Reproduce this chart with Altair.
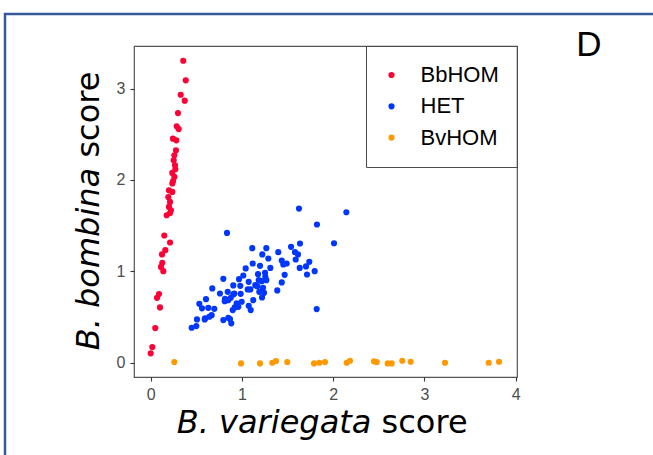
import altair as alt
import pandas as pd

groups = ["BbHOM", "HET", "BvHOM"]
colors = ["#ff0036", "#0037ff", "#ff9900"]

red_x = [0.357, 0.384, 0.329, 0.373, 0.299, 0.285, 0.307, 0.244, 0.281, 0.277, 0.259, 0.252, 0.270,
         0.237, 0.259, 0.237, 0.200, 0.237, 0.193, 0.212, 0.200, 0.222, 0.212, 0.175, 0.149, 0.212,
         0.160, 0.124, 0.127, 0.113, 0.138, 0.091, 0.069, 0.102, 0.050, 0.018, 0.000, 0.266, 0.244]
red_y = [3.305, 3.090, 2.933, 2.868, 2.732, 2.587, 2.557, 2.452, 2.434, 2.325, 2.270, 2.215, 2.117,
         2.077, 2.033, 1.961, 1.887, 1.869, 1.814, 1.760, 1.705, 1.669, 1.639, 1.614, 1.392, 1.316,
         1.232, 1.185, 1.093, 1.049, 1.002, 0.751, 0.710, 0.605, 0.379, 0.172, 0.103, 2.160, 1.985]

blue_x = [1.625, 2.144, 1.822, 0.836, 2.009, 1.113, 1.267, 1.538, 1.636, 1.398, 1.581, 1.614, 1.223,
          1.289, 1.589, 1.738, 1.436, 1.453, 1.490, 1.118, 1.198, 1.311, 1.633, 1.702, 1.797, 1.713,
          1.041, 1.176, 1.253, 1.468, 1.015, 0.968, 0.796, 1.074, 1.184, 1.267, 1.436, 1.387, 0.905,
          1.063, 1.168, 1.231, 0.675, 0.759, 0.844, 0.916, 0.986, 1.220, 0.814, 0.877, 1.124, 0.606,
          0.533, 0.562, 0.631, 0.697, 0.960, 1.074, 1.096, 0.899, 0.668, 0.595, 1.819, 0.507, 0.796,
          0.883, 0.500, 0.449, 0.850, 0.921, 0.850, 0.982, 1.146, 1.216, 0.905, 1.092, 1.190, 0.811,
          0.942, 0.997, 0.642, 0.592, 0.869, 1.256, 1.242]
blue_y = [1.687, 1.647, 1.513, 1.421, 1.308, 1.254, 1.254, 1.268, 1.305, 1.210, 1.210, 1.185, 1.185,
          1.141, 1.130, 1.104, 1.119, 1.075, 1.086, 1.086, 1.060, 1.038, 1.038, 1.054, 1.002, 0.966,
          1.032, 0.969, 0.984, 0.962, 0.955, 0.915, 0.918, 0.885, 0.904, 0.904, 0.879, 0.791, 0.846,
          0.802, 0.838, 0.820, 0.813, 0.758, 0.776, 0.758, 0.754, 0.715, 0.699, 0.710, 0.685, 0.696,
          0.645, 0.595, 0.601, 0.590, 0.612, 0.623, 0.576, 0.576, 0.521, 0.485, 0.587, 0.474, 0.467,
          0.431, 0.401, 0.383, 0.492, 0.605, 0.685, 0.842, 0.849, 0.893, 0.748, 0.802, 0.776, 0.674,
          0.649, 0.667, 0.503, 0.474, 0.478, 0.940, 0.765]

orange_x = [0.259, 0.990, 1.198, 1.333, 1.373, 1.497, 1.790, 1.848, 1.910, 2.148, 2.184, 2.447,
            2.477, 2.597, 2.641, 2.757, 2.849, 3.225, 3.704, 3.817]
orange_y = [0.008, -0.007, -0.007, 0.000, 0.019, 0.008, -0.007, 0.000, 0.008, 0.000, 0.022, 0.015,
            0.008, -0.007, -0.007, 0.022, 0.011, 0.000, 0.000, 0.011]

x_ticks = [0, 1, 2, 3, 4]
y_ticks = [0, 1, 2, 3]

df = pd.concat([
    pd.DataFrame({"x": red_x, "y": red_y, "group": groups[0]}),
    pd.DataFrame({"x": blue_x, "y": blue_y, "group": groups[1]}),
    pd.DataFrame({"x": orange_x, "y": orange_y, "group": groups[2]}),
], ignore_index=True)

W, H = 383, 331
one = pd.DataFrame({"d": [0]})

axis_common = dict(title=None, grid=False, domain=False, tickColor="#333333", tickSize=4,
                   tickWidth=1.1, labelColor="#4d4d4d", labelFontSize=16,
                   labelFont="Liberation Sans", labelPadding=5)

points = alt.Chart(df).mark_circle(size=38, opacity=1).encode(
    x=alt.X("x:Q", scale=alt.Scale(domain=[-0.183, 4.014], nice=False, zero=False),
            axis=alt.Axis(values=x_ticks, **axis_common)),
    y=alt.Y("y:Q", scale=alt.Scale(domain=[-0.156, 3.466], nice=False, zero=False),
            axis=alt.Axis(values=y_ticks, **axis_common)),
    color=alt.Color("group:N", scale=alt.Scale(domain=groups, range=colors),
                    legend=alt.Legend(title=None, orient="none", legendX=232, legendY=0,
                                      strokeColor="#4d4d4d", padding=18, labelFontSize=22,
                                      labelFont="Liberation Sans", labelColor="black",
                                      rowPadding=9.3, symbolSize=38, symbolType="circle",
                                      symbolStrokeWidth=0, symbolOffset=-3.5, labelOffset=18)),
)


def txt(text, x, y, **kw):
    return alt.Chart(one).mark_text(text=text, **kw).encode(x=alt.value(x), y=alt.value(y))


title_font = dict(font="DejaVu Sans", fontSize=32, color="black", baseline="alphabetic")

x_t1 = txt("B. variegata", 237.4, 387, align="right", fontStyle="italic", **title_font)
x_t2 = txt("score", 247.6, 387, align="left", **title_font)
y_t1 = txt("B. bombina", -35, 121.8, align="right", angle=270, fontStyle="italic", **title_font)
y_t2 = txt("score", -35, 111.6, align="left", angle=270, **title_font)
d_lab = txt("D", 455, 10, align="center", font="Liberation Sans", fontSize=35, color="black",
            baseline="alphabetic")

frame = alt.Chart(one).mark_rect(filled=False, stroke="#35589a", strokeWidth=2.5).encode(
    x=alt.value(-129), x2=alt.value(700), y=alt.value(-32), y2=alt.value(520))

chart = alt.layer(frame, points, x_t1, x_t2, y_t1, y_t2, d_lab).properties(
    width=W, height=H,
    padding={"left": 134, "top": 46, "right": 136, "bottom": 78},
    autosize=alt.AutoSizeParams(type="none"),
    background="white",
).configure_view(stroke="#555555", strokeWidth=1.2)

chart.save("out.html", embed_options={"renderer": "svg", "actions": False})
